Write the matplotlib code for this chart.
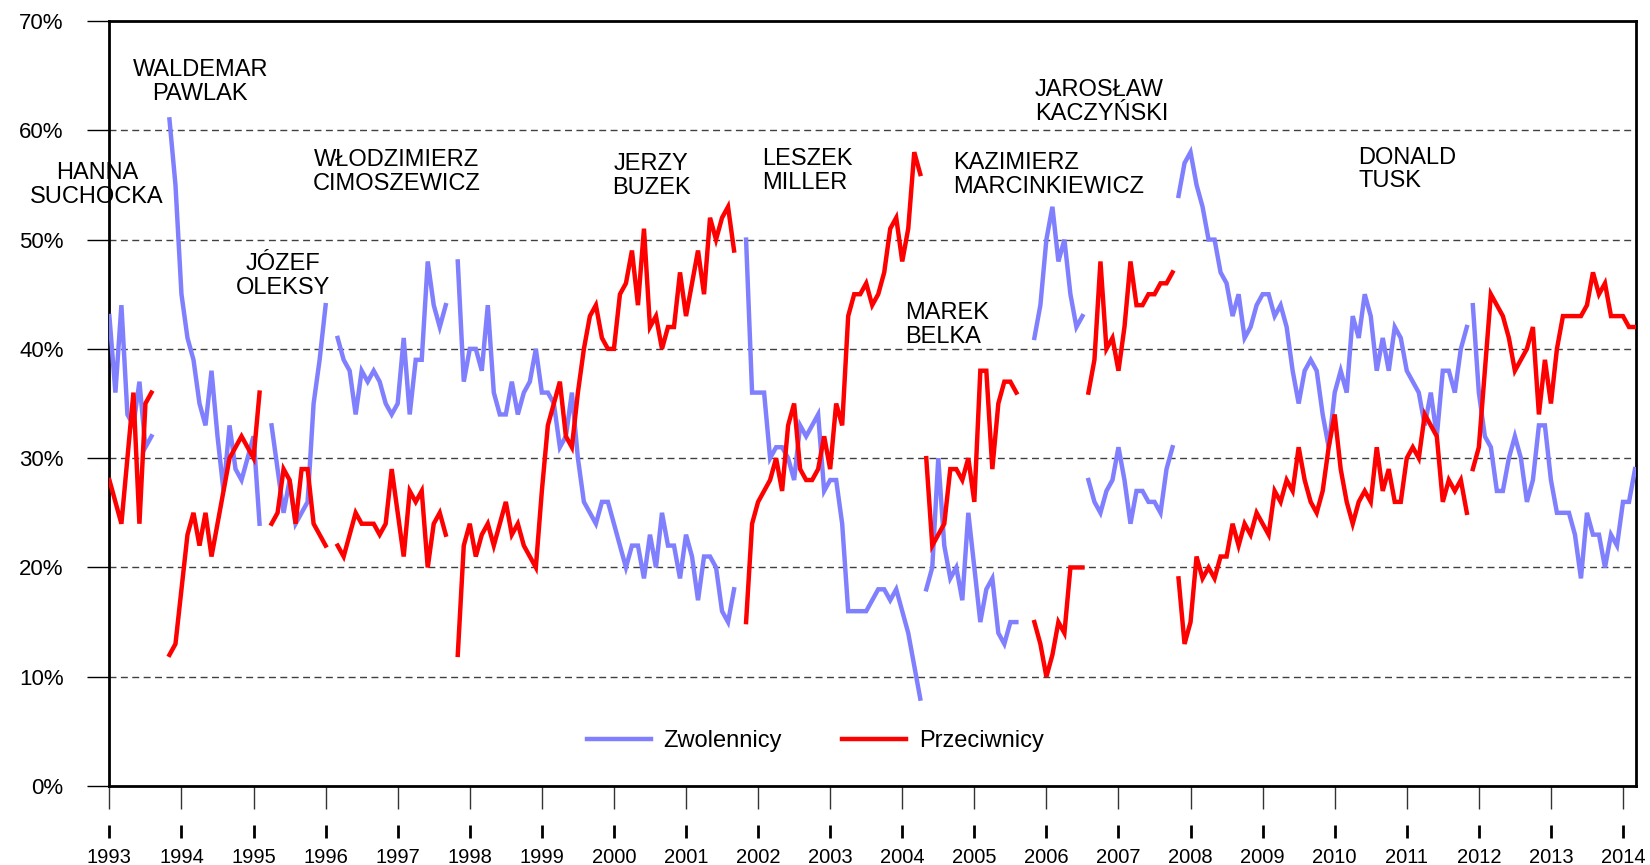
import numpy as np
import matplotlib
matplotlib.use('Agg')
import matplotlib.pyplot as plt
from matplotlib.lines import Line2D

plt.rcParams['font.family'] = ['Liberation Sans', 'DejaVu Sans']

# oceny rządów (CBOS) - zwolennicy / przeciwnicy, dane miesięczne w %
suchocka_start = '1993-01'
suchocka_za = [43, 36, 44, 34, 33, 37, 31, 32]
suchocka_przeciw = [28, 26, 24, 30, 36, 24, 35, 36]

pawlak_start = '1993-11'
pawlak_za = [61, 55, 45, 41, 39, 35, 33, 38, 32, 27, 33, 29, 28, 30, 32, 24]
pawlak_przeciw = [12, 13, 18, 23, 25, 22, 25, 21, 24, 27, 30, 31, 32, 31, 30, 36]

oleksy_start = '1995-04'
oleksy_za = [33, 29, 25, 28, 24, 25, 26, 35, 39, 44]
oleksy_przeciw = [24, 25, 29, 28, 24, 29, 29, 24, 23, 22]

cimoszewicz_start = '1996-03'
cimoszewicz_za = [41, 39, 38, 34, 38, 37, 38, 37, 35, 34, 35, 41, 34, 39, 39, 48, 44, 42, 44]
cimoszewicz_przeciw = [22, 21, 23, 25, 24, 24, 24, 23, 24, 29, 25, 21, 27, 26, 27, 20, 24, 25, 23]

buzek_start = '1997-11'
buzek_za = [48, 37, 40, 40, 38, 44, 36, 34, 34, 37, 34, 36, 37, 40, 36, 36, 35, 31, 32, 36,
            30, 26, 25, 24, 26, 26, 24, 22, 20, 22, 22, 19, 23, 20, 25, 22, 22, 19, 23, 21,
            17, 21, 21, 20, 16, 15, 18]
buzek_przeciw = [12, 22, 24, 21, 23, 24, 22, 24, 26, 23, 24, 22, 21, 20, 27, 33, 35, 37, 32, 31,
                 36, 40, 43, 44, 41, 40, 40, 45, 46, 49, 44, 51, 42, 43, 40, 42, 42, 47, 43, 46,
                 49, 45, 52, 50, 52, 53, 49]

miller_start = '2001-11'
miller_za = [50, 36, 36, 36, 30, 31, 31, 30, 28, 33, 32, 33, 34, 27, 28, 28, 24, 16, 16, 16,
             16, 17, 18, 18, 17, 18, 16, 14, 11, 8]
miller_przeciw = [15, 24, 26, 27, 28, 30, 27, 33, 35, 29, 28, 28, 29, 32, 29, 35, 33, 43, 45, 45,
                  46, 44, 45, 47, 51, 52, 48, 51, 58, 56]

belka_start = '2004-05'
belka_za = [18, 20, 30, 22, 19, 20, 17, 25, 20, 15, 18, 19, 14, 13, 15, 15]
belka_przeciw = [30, 22, 23, 24, 29, 29, 28, 30, 26, 38, 38, 29, 35, 37, 37, 36]

marcinkiewicz_start = '2005-11'
marcinkiewicz_za = [41, 44, 50, 53, 48, 50, 45, 42, 43]
marcinkiewicz_przeciw = [15, 13, 10, 12, 15, 14, 20, 20, 20]

kaczynski_start = '2006-08'
kaczynski_za = [28, 26, 25, 27, 28, 31, 28, 24, 27, 27, 26, 26, 25, 29, 31]
kaczynski_przeciw = [36, 39, 48, 40, 41, 38, 42, 48, 44, 44, 45, 45, 46, 46, 47]

tusk1_start = '2007-11'
tusk1_za = [54, 57, 58, 55, 53, 50, 50, 47, 46, 43, 45, 41, 42, 44, 45, 45, 43, 44, 42, 38,
            35, 38, 39, 38, 34, 31, 36, 38, 36, 43, 41, 45, 43, 38, 41, 38, 42, 41, 38, 37,
            36, 33, 36, 32, 38, 38, 36, 40, 42]
tusk1_przeciw = [19, 13, 15, 21, 19, 20, 19, 21, 21, 24, 22, 24, 23, 25, 24, 23, 27, 26, 28, 27,
                 31, 28, 26, 25, 27, 31, 34, 29, 26, 24, 26, 27, 26, 31, 27, 29, 26, 26, 30, 31,
                 30, 34, 33, 32, 26, 28, 27, 28, 25]

tusk2_start = '2011-12'
tusk2_za = [44, 36, 32, 31, 27, 27, 30, 32, 30, 26, 28, 33, 33, 28, 25, 25, 25, 23, 19, 25,
            23, 23, 20, 23, 22, 26, 26, 29]
tusk2_przeciw = [29, 31, 38, 45, 44, 43, 41, 38, 39, 40, 42, 34, 39, 35, 40, 43, 43, 43, 43, 44,
                 47, 45, 46, 43, 43, 43, 42, 42]

rzady = [
    (suchocka_start, suchocka_za, suchocka_przeciw),
    (pawlak_start, pawlak_za, pawlak_przeciw),
    (oleksy_start, oleksy_za, oleksy_przeciw),
    (cimoszewicz_start, cimoszewicz_za, cimoszewicz_przeciw),
    (buzek_start, buzek_za, buzek_przeciw),
    (miller_start, miller_za, miller_przeciw),
    (belka_start, belka_za, belka_przeciw),
    (marcinkiewicz_start, marcinkiewicz_za, marcinkiewicz_przeciw),
    (kaczynski_start, kaczynski_za, kaczynski_przeciw),
    (tusk1_start, tusk1_za, tusk1_przeciw),
    (tusk2_start, tusk2_za, tusk2_przeciw),
]

# premierzy: tekst, x, y, wyrównanie
premier_names = ['HANNA\nSUCHOCKA', 'WALDEMAR\nPAWLAK', 'JÓZEF\nOLEKSY',
                 'WŁODZIMIERZ\nCIMOSZEWICZ', 'JERZY\nBUZEK', 'LESZEK\nMILLER',
                 'MAREK\nBELKA', 'KAZIMIERZ\nMARCINKIEWICZ', 'JAROSŁAW\nKACZYŃSKI',
                 'DONALD\nTUSK']
premier_x = [1992.83, 1994.26, 1995.41, 1996.99, 2000.52, 2002.05, 2004.04, 2004.70, 2005.84, 2010.33]
premier_y = [55.0, 64.4, 46.7, 56.2, 55.8, 56.3, 42.2, 55.9, 62.6, 56.4]
premier_ha = ['center', 'center', 'center', 'center', 'center',
              'left', 'left', 'left', 'left', 'left']

years = list(range(1993, 2015))

blue = '#8080FF'
red = '#FF0000'

fig = plt.figure(figsize=(16.5, 8.65), dpi=100)
ax = fig.add_axes([0.0663, 0.0913, 0.9252, 0.8844])

for i, (start, za, przeciw) in enumerate(rzady):
    y0, m0 = int(start[:4]), int(start[5:])
    x = y0 + (m0 - 1 + np.arange(len(za))) / 12
    ax.plot(x, za, color=blue, lw=3.2, solid_joinstyle='miter',
            label='Zwolennicy' if i == 0 else None, zorder=3)
    ax.plot(x, przeciw, color=red, lw=3.2, solid_joinstyle='miter',
            label='Przeciwnicy' if i == 0 else None, zorder=3)

for name, x, y, ha in zip(premier_names, premier_x, premier_y, premier_ha):
    ax.text(x, y, name, ha=ha, va='center', multialignment=ha, fontsize=17,
            linespacing=1.1, clip_on=False)

ax.set_xlim(1993, 2014.18)
ax.set_ylim(0, 70)

# siatka pozioma
for v in range(10, 70, 10):
    ax.axhline(v, color='#404040', lw=1, linestyle=(0, (5, 3.2)), zorder=1)

ax.set_yticks(range(0, 80, 10))
ax.set_yticklabels([f'{v}%' for v in range(0, 80, 10)], fontsize=16)
ax.tick_params(axis='y', direction='out', length=16, width=1, pad=17)

ax.set_xticks(years)
ax.set_xticklabels([str(y) for y in years], fontsize=14.5)
ax.tick_params(axis='x', direction='out', length=16.5, width=1, color='#333333', pad=28)

# krótkie kreski nad etykietami lat (rysowane na poziomie figury)
fig.canvas.draw()
to_fig = fig.transFigure.inverted()
for yr in years:
    xf = to_fig.transform(ax.transData.transform((yr, 0)))[0]
    fig.add_artist(Line2D([xf, xf], [1 - 825 / 865, 1 - 838 / 865],
                          transform=fig.transFigure, color='black', lw=2,
                          solid_capstyle='butt', zorder=5))

for s in ax.spines.values():
    s.set_linewidth(2)

ax.legend(loc='center', bbox_to_anchor=(0.4625, 0.0588), ncol=2, frameon=False,
          fontsize=17, handlelength=2.7, handletextpad=0.55, columnspacing=2.56)

fig.savefig('out.png', dpi=100)
